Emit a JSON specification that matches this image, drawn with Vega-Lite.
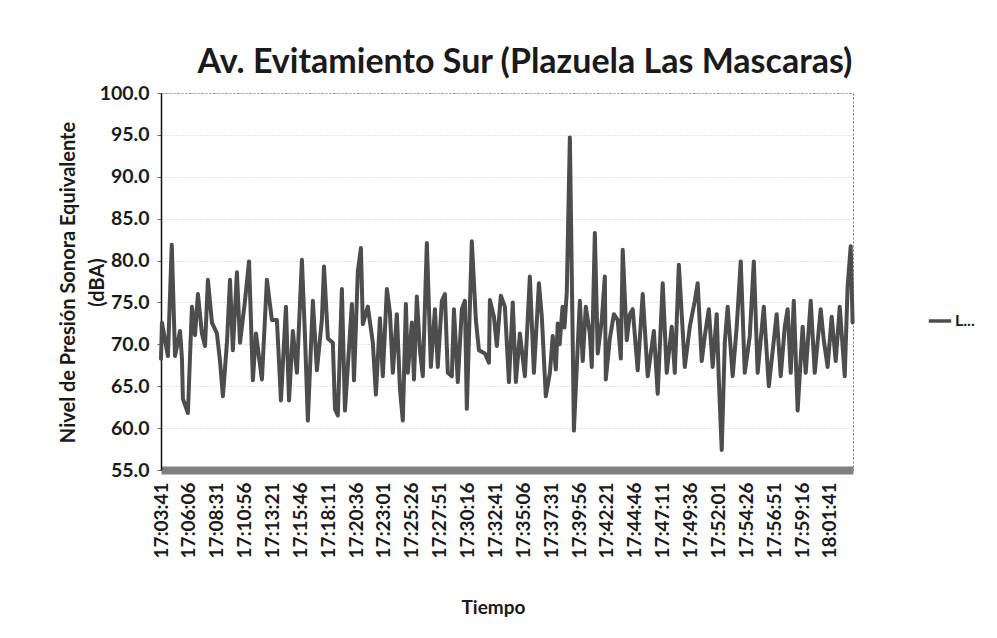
{
  "$schema": "https://vega.github.io/schema/vega-lite/v6.json",
  "width": 692,
  "height": 377,
  "autosize": {"type": "none"},
  "padding": {"left": 161, "top": 93, "right": 144, "bottom": 168},
  "background": "white",
  "title": {
    "text": "Av. Evitamiento Sur (Plazuela Las Mascaras)",
    "font": "Lato",
    "fontSize": 34,
    "fontWeight": "bold",
    "color": "#1a1a1a",
    "anchor": "middle",
    "offset": 3,
    "dx": 18
  },
  "data": {
    "format": {"parse": {"t": "date:'%H:%M:%S'"}},
    "values": [
      {"t":"17:03:41","v":68.3},{"t":"17:03:46","v":72.6},{"t":"17:04:17","v":68.6},{"t":"17:04:37","v":81.9},
      {"t":"17:04:54","v":68.6},{"t":"17:05:20","v":71.6},{"t":"17:05:30","v":68.3},{"t":"17:05:35","v":63.5},
      {"t":"17:06:01","v":61.8},{"t":"17:06:12","v":68.6},{"t":"17:06:22","v":74.5},{"t":"17:06:38","v":71.1},
      {"t":"17:06:53","v":76.0},{"t":"17:07:14","v":71.3},{"t":"17:07:30","v":69.8},{"t":"17:07:45","v":77.7},
      {"t":"17:08:06","v":72.6},{"t":"17:08:32","v":71.3},{"t":"17:08:48","v":68.0},{"t":"17:09:03","v":63.8},
      {"t":"17:09:24","v":70.2},{"t":"17:09:40","v":77.7},{"t":"17:09:55","v":69.3},{"t":"17:10:16","v":78.6},
      {"t":"17:10:32","v":70.2},{"t":"17:10:58","v":75.2},{"t":"17:11:19","v":79.9},{"t":"17:11:39","v":65.7},
      {"t":"17:11:55","v":71.3},{"t":"17:12:26","v":65.8},{"t":"17:12:52","v":77.7},{"t":"17:13:18","v":72.9},
      {"t":"17:13:44","v":72.9},{"t":"17:14:05","v":63.3},{"t":"17:14:31","v":74.5},{"t":"17:14:47","v":63.3},
      {"t":"17:15:07","v":71.6},{"t":"17:15:28","v":66.6},{"t":"17:15:54","v":80.1},{"t":"17:16:10","v":71.0},
      {"t":"17:16:25","v":60.9},{"t":"17:16:51","v":75.2},{"t":"17:17:12","v":66.9},{"t":"17:17:38","v":72.9},
      {"t":"17:17:49","v":79.3},{"t":"17:18:09","v":70.7},{"t":"17:18:35","v":70.2},{"t":"17:18:46","v":62.3},
      {"t":"17:19:01","v":61.5},{"t":"17:19:22","v":76.6},{"t":"17:19:38","v":62.1},{"t":"17:20:14","v":74.8},
      {"t":"17:20:25","v":65.7},{"t":"17:20:45","v":78.7},{"t":"17:21:01","v":81.5},{"t":"17:21:11","v":72.4},
      {"t":"17:21:37","v":74.5},{"t":"17:22:03","v":70.2},{"t":"17:22:19","v":64.0},{"t":"17:22:40","v":73.1},
      {"t":"17:22:55","v":66.2},{"t":"17:23:16","v":76.6},{"t":"17:23:32","v":73.8},{"t":"17:23:47","v":66.6},
      {"t":"17:24:08","v":73.6},{"t":"17:24:24","v":64.7},{"t":"17:24:39","v":60.9},{"t":"17:24:55","v":74.8},
      {"t":"17:25:05","v":66.6},{"t":"17:25:26","v":72.6},{"t":"17:25:37","v":65.8},{"t":"17:25:52","v":75.7},
      {"t":"17:26:08","v":69.3},{"t":"17:26:23","v":66.2},{"t":"17:26:44","v":82.1},{"t":"17:27:05","v":67.3},
      {"t":"17:27:26","v":74.2},{"t":"17:27:41","v":67.3},{"t":"17:28:02","v":75.2},{"t":"17:28:18","v":76.0},
      {"t":"17:28:33","v":66.6},{"t":"17:28:54","v":66.2},{"t":"17:29:05","v":74.2},{"t":"17:29:25","v":65.5},
      {"t":"17:29:46","v":74.2},{"t":"17:30:02","v":75.2},{"t":"17:30:12","v":62.3},{"t":"17:30:38","v":82.3},
      {"t":"17:30:59","v":72.9},{"t":"17:31:15","v":69.3},{"t":"17:31:46","v":68.9},{"t":"17:32:07","v":67.8},
      {"t":"17:32:12","v":75.3},{"t":"17:32:33","v":73.3},{"t":"17:32:48","v":69.8},{"t":"17:33:09","v":75.8},
      {"t":"17:33:30","v":74.5},{"t":"17:33:51","v":65.5},{"t":"17:34:11","v":75.0},{"t":"17:34:27","v":65.5},
      {"t":"17:34:48","v":71.3},{"t":"17:35:14","v":66.2},{"t":"17:35:40","v":78.1},{"t":"17:36:01","v":66.6},
      {"t":"17:36:27","v":77.3},{"t":"17:36:42","v":73.3},{"t":"17:37:03","v":63.8},{"t":"17:37:24","v":66.6},
      {"t":"17:37:39","v":71.0},{"t":"17:37:45","v":69.5},{"t":"17:37:55","v":67.0},{"t":"17:38:05","v":72.5},
      {"t":"17:38:15","v":70.0},{"t":"17:38:30","v":74.5},{"t":"17:38:40","v":72.0},{"t":"17:38:52","v":76.2},
      {"t":"17:39:08","v":94.7},{"t":"17:39:23","v":70.2},{"t":"17:39:29","v":59.7},{"t":"17:39:44","v":67.3},
      {"t":"17:40:00","v":75.2},{"t":"17:40:15","v":68.0},{"t":"17:40:31","v":74.5},{"t":"17:40:52","v":71.3},
      {"t":"17:41:02","v":67.3},{"t":"17:41:18","v":83.3},{"t":"17:41:33","v":68.9},{"t":"17:41:54","v":72.9},
      {"t":"17:42:10","v":78.1},{"t":"17:42:15","v":65.8},{"t":"17:42:36","v":70.7},{"t":"17:42:57","v":73.6},
      {"t":"17:43:17","v":72.9},{"t":"17:43:33","v":68.3},{"t":"17:43:43","v":81.3},{"t":"17:44:04","v":70.5},
      {"t":"17:44:20","v":73.6},{"t":"17:44:35","v":74.2},{"t":"17:45:01","v":66.9},{"t":"17:45:27","v":76.0},
      {"t":"17:45:53","v":66.2},{"t":"17:46:25","v":71.6},{"t":"17:46:45","v":64.1},{"t":"17:47:11","v":77.3},
      {"t":"17:47:32","v":66.6},{"t":"17:47:58","v":72.1},{"t":"17:48:14","v":66.6},{"t":"17:48:35","v":79.5},
      {"t":"17:49:06","v":67.3},{"t":"17:49:32","v":72.1},{"t":"17:49:58","v":75.2},{"t":"17:50:13","v":77.3},
      {"t":"17:50:34","v":68.0},{"t":"17:50:50","v":71.0},{"t":"17:51:11","v":74.2},{"t":"17:51:31","v":67.3},
      {"t":"17:51:52","v":73.6},{"t":"17:52:03","v":65.8},{"t":"17:52:18","v":57.4},{"t":"17:52:34","v":70.2},
      {"t":"17:52:49","v":74.5},{"t":"17:53:15","v":66.2},{"t":"17:53:36","v":72.1},{"t":"17:53:57","v":79.9},
      {"t":"17:54:18","v":66.6},{"t":"17:54:44","v":71.0},{"t":"17:55:05","v":79.9},{"t":"17:55:25","v":66.6},
      {"t":"17:55:57","v":74.5},{"t":"17:56:23","v":65.0},{"t":"17:57:04","v":73.6},{"t":"17:57:25","v":66.2},
      {"t":"17:57:46","v":72.1},{"t":"17:58:01","v":74.2},{"t":"17:58:17","v":66.6},{"t":"17:58:33","v":75.2},
      {"t":"17:58:53","v":62.1},{"t":"17:59:19","v":72.1},{"t":"17:59:35","v":66.6},{"t":"18:00:01","v":75.2},
      {"t":"18:00:22","v":66.6},{"t":"18:00:53","v":74.2},{"t":"18:01:09","v":70.5},{"t":"18:01:29","v":67.3},
      {"t":"18:01:50","v":73.3},{"t":"18:02:11","v":68.0},{"t":"18:02:32","v":74.5},{"t":"18:02:58","v":66.2},
      {"t":"18:03:13","v":76.9},{"t":"18:03:29","v":81.7},{"t":"18:03:39","v":72.6}
    ]
  },
  "mark": {"type": "line", "strokeWidth": 4, "strokeJoin": "round", "strokeCap": "round"},
  "encoding": {
    "x": {
      "field": "t",
      "type": "temporal",
      "title": "Tiempo",
      "scale": {"domain": [
        {"year": 1900, "month": 1, "date": 1, "hours": 17, "minutes": 3, "seconds": 41},
        {"year": 1900, "month": 1, "date": 1, "hours": 18, "minutes": 3, "seconds": 41}
      ]},
      "axis": {
        "values": [
          {"year":1900,"month":1,"date":1,"hours":17,"minutes":3,"seconds":41},
          {"year":1900,"month":1,"date":1,"hours":17,"minutes":6,"seconds":6},
          {"year":1900,"month":1,"date":1,"hours":17,"minutes":8,"seconds":31},
          {"year":1900,"month":1,"date":1,"hours":17,"minutes":10,"seconds":56},
          {"year":1900,"month":1,"date":1,"hours":17,"minutes":13,"seconds":21},
          {"year":1900,"month":1,"date":1,"hours":17,"minutes":15,"seconds":46},
          {"year":1900,"month":1,"date":1,"hours":17,"minutes":18,"seconds":11},
          {"year":1900,"month":1,"date":1,"hours":17,"minutes":20,"seconds":36},
          {"year":1900,"month":1,"date":1,"hours":17,"minutes":23,"seconds":1},
          {"year":1900,"month":1,"date":1,"hours":17,"minutes":25,"seconds":26},
          {"year":1900,"month":1,"date":1,"hours":17,"minutes":27,"seconds":51},
          {"year":1900,"month":1,"date":1,"hours":17,"minutes":30,"seconds":16},
          {"year":1900,"month":1,"date":1,"hours":17,"minutes":32,"seconds":41},
          {"year":1900,"month":1,"date":1,"hours":17,"minutes":35,"seconds":6},
          {"year":1900,"month":1,"date":1,"hours":17,"minutes":37,"seconds":31},
          {"year":1900,"month":1,"date":1,"hours":17,"minutes":39,"seconds":56},
          {"year":1900,"month":1,"date":1,"hours":17,"minutes":42,"seconds":21},
          {"year":1900,"month":1,"date":1,"hours":17,"minutes":44,"seconds":46},
          {"year":1900,"month":1,"date":1,"hours":17,"minutes":47,"seconds":11},
          {"year":1900,"month":1,"date":1,"hours":17,"minutes":49,"seconds":36},
          {"year":1900,"month":1,"date":1,"hours":17,"minutes":52,"seconds":1},
          {"year":1900,"month":1,"date":1,"hours":17,"minutes":54,"seconds":26},
          {"year":1900,"month":1,"date":1,"hours":17,"minutes":56,"seconds":51},
          {"year":1900,"month":1,"date":1,"hours":17,"minutes":59,"seconds":16},
          {"year":1900,"month":1,"date":1,"hours":18,"minutes":1,"seconds":41}
        ],
        "format": "%H:%M:%S",
        "labelAngle": -90,
        "labelAlign": "right",
        "labelBaseline": "middle",
        "labelFont": "Lato",
        "labelFontSize": 19,
        "labelFontWeight": "bold",
        "labelColor": "#1a1a1a",
        "labelPadding": 12,
        "labelOverlap": false,
        "labelFlush": false,
        "ticks": false,
        "grid": false,
        "domainColor": "#808080",
        "domainWidth": 8,
        "titleFont": "Lato",
        "titleFontSize": 19,
        "titleFontWeight": "bold",
        "titleColor": "#1a1a1a",
        "titleX": 332,
        "titleY": 137,
        "titleBaseline": "middle",
        "titleAlign": "center"
      }
    },
    "y": {
      "field": "v",
      "type": "quantitative",
      "title": ["Nivel de Presión Sonora Equivalente", "(dBA)"],
      "scale": {"domain": [55, 100], "nice": false, "zero": false},
      "axis": {
        "values": [55, 60, 65, 70, 75, 80, 85, 90, 95, 100],
        "format": ".1f",
        "labelFont": "Lato",
        "labelFontSize": 19.5,
        "labelFontWeight": "bold",
        "labelColor": "#1a1a1a",
        "labelPadding": 8,
        "tickSize": 4,
        "tickColor": "#666",
        "domainColor": "#111",
        "domainWidth": 1.5,
        "gridColor": "#c8c8c8",
        "gridDash": [1, 2],
        "gridWidth": 1,
        "titleFont": "Lato",
        "titleFontSize": 20,
        "titleFontWeight": "bold",
        "titleColor": "#1a1a1a",
        "titleLineHeight": 29,
        "titleX": -103,
        "titleY": 189,
        "titleBaseline": "top",
        "titleAlign": "center",
        "titleAngle": -90
      }
    },
    "color": {
      "datum": "L...",
      "type": "nominal",
      "scale": {"range": ["#4d4d4d"]},
      "legend": {
        "title": null,
        "orient": "none",
        "legendX": 766,
        "legendY": 215,
        "symbolType": "stroke",
        "symbolSize": 500,
        "symbolStrokeWidth": 3.5,
        "labelFont": "Lato",
        "labelFontSize": 16,
        "labelFontWeight": "bold",
        "labelColor": "#1a1a1a",
        "labelOffset": 2
      }
    }
  },
  "config": {
    "view": {"stroke": "#777", "strokeDash": [2, 2], "strokeWidth": 1}
  }
}
